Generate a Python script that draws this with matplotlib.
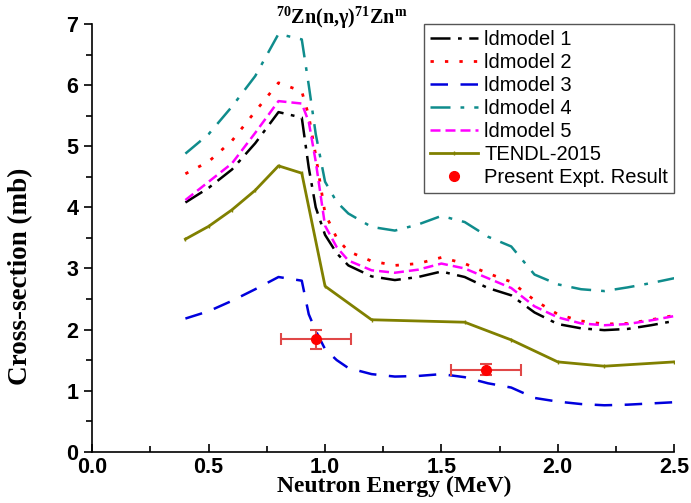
import matplotlib
matplotlib.use("Agg")
import matplotlib.pyplot as plt
from matplotlib.ticker import MultipleLocator, FormatStrFormatter

plt.rcParams['font.family'] = ['Liberation Sans', 'DejaVu Sans']
plt.rcParams['mathtext.fontset'] = 'custom'
plt.rcParams['mathtext.rm'] = 'Liberation Serif'
plt.rcParams['mathtext.bf'] = 'Liberation Serif:bold'

# ---- data ----
energy = [0.4, 0.5, 0.6, 0.7, 0.8, 0.9, 0.93, 0.96, 1.0, 1.05, 1.1, 1.2, 1.3,
          1.4, 1.5, 1.6, 1.7, 1.8, 1.9, 2.0, 2.1, 2.2, 2.3, 2.4, 2.5]
ld1 = [4.08, 4.32, 4.62, 5.05, 5.56, 5.47, 4.65, 4.00, 3.55, 3.25, 3.05, 2.87, 2.81,
       2.86, 2.95, 2.86, 2.68, 2.56, 2.28, 2.09, 2.02, 1.99, 2.01, 2.07, 2.14]
ld2 = [4.55, 4.75, 5.09, 5.57, 6.04, 5.90, 5.50, 4.85, 3.90, 3.50, 3.28, 3.12, 3.05,
       3.08, 3.18, 3.08, 2.92, 2.78, 2.48, 2.25, 2.14, 2.09, 2.10, 2.16, 2.23]
ld3 = [2.18, 2.30, 2.47, 2.66, 2.86, 2.80, 2.25, 1.98, 1.68, 1.50, 1.37, 1.27, 1.23,
       1.24, 1.27, 1.22, 1.12, 1.05, 0.88, 0.82, 0.78, 0.76, 0.77, 0.79, 0.81]
ld4 = [4.88, 5.20, 5.65, 6.15, 6.84, 6.75, 6.00, 5.20, 4.42, 4.09, 3.90, 3.68, 3.62,
       3.72, 3.86, 3.76, 3.52, 3.36, 2.90, 2.74, 2.66, 2.63, 2.69, 2.76, 2.84]
ld5 = [4.12, 4.42, 4.72, 5.22, 5.74, 5.70, 5.40, 4.75, 3.70, 3.35, 3.13, 2.97, 2.93,
       2.98, 3.08, 3.00, 2.84, 2.68, 2.38, 2.20, 2.10, 2.07, 2.09, 2.15, 2.22]

tendl_e = [0.4, 0.5, 0.6, 0.7, 0.8, 0.9, 1.0, 1.2, 1.6, 1.8, 2.0, 2.2, 2.5]
tendl = [3.48, 3.69, 3.96, 4.28, 4.68, 4.56, 2.71, 2.16, 2.12, 1.83, 1.47, 1.40, 1.47]

expt_e = [0.96, 1.69]
expt_xs = [1.84, 1.34]
expt_e_err = [0.15, 0.15]
expt_xs_err = [0.16, 0.09]

# ---- figure ----
fig = plt.figure(figsize=(6.91, 5.03), dpi=100)
ax = fig.add_axes([0.1336, 0.102, 0.842, 0.850])

ax.plot(energy, ld1, color='black', lw=1.8, ls=(0, (8, 3, 1.5, 3)), label='ldmodel 1')
ax.plot(energy, ld2, color='#ff0000', lw=2.0, ls=(0, (1.2, 4)), label='ldmodel 2')
ax.plot(energy, ld3, color='#0000dd', lw=1.8, ls=(0, (7, 5)), label='ldmodel 3')
ax.plot(energy, ld4, color='#0f8c8c', lw=1.8, ls=(0, (8, 4, 1.5, 4)), label='ldmodel 4')
ax.plot(energy, ld5, color='#ff00ff', lw=1.8, ls=(0, (4, 2)), label='ldmodel 5')
ax.plot(tendl_e, tendl, color='#808000', lw=2.0, marker='|', ms=3, mew=1,
        label='TENDL-2015')
ax.errorbar(expt_e, expt_xs, xerr=expt_e_err, yerr=expt_xs_err, fmt='none',
            ecolor='#e04848', elinewidth=1.5, capsize=4, capthick=1.5)
ax.plot(expt_e, expt_xs, 'o', color='#ff0000', ms=7, ls='none',
        label='Present Expt. Result')

ax.set_xlim(0, 2.5)
ax.set_ylim(0, 7)
ax.spines['top'].set_visible(False)
ax.spines['right'].set_visible(False)
for s in ('left', 'bottom'):
    ax.spines[s].set_linewidth(1.2)

ax.xaxis.set_major_locator(MultipleLocator(0.5))
ax.xaxis.set_minor_locator(MultipleLocator(0.25))
ax.yaxis.set_major_locator(MultipleLocator(1))
ax.yaxis.set_minor_locator(MultipleLocator(0.5))
ax.xaxis.set_major_formatter(FormatStrFormatter('%.1f'))
ax.yaxis.set_major_formatter(FormatStrFormatter('%d'))
ax.tick_params(axis='x', which='major', direction='in', length=6, width=1.2)
ax.tick_params(axis='x', which='minor', direction='in', length=4, width=1.2)
ax.tick_params(axis='y', which='major', direction='out', length=6, width=1.2)
ax.tick_params(axis='y', which='minor', direction='out', length=4, width=1.2)
ax.tick_params(axis='both', which='major', labelsize=15.5, pad=4)
for lab in ax.get_xticklabels() + ax.get_yticklabels():
    lab.set_fontweight('bold')

ax.set_xlabel('Neutron Energy (MeV)', fontfamily='Liberation Serif',
              fontweight='bold', fontsize=17)
ax.xaxis.set_label_coords(0.519, -0.057)
ax.xaxis.label.set_va('top')
ax.set_ylabel('Cross-section (mb)', fontfamily='Liberation Serif',
              fontweight='bold', fontsize=19.5)
ax.yaxis.set_label_coords(-0.101, 0.41)

fig.text(342 / 691, 1 - 24 / 503,
         r'$^{\mathbf{70}}$Zn(n,γ)$^{\mathbf{71}}$Zn$^{\mathbf{m}}$',
         ha='center', va='baseline', fontfamily='Liberation Serif',
         fontweight='bold', fontsize=14.5)

leg = ax.legend(loc='upper right', bbox_to_anchor=(1.0, 1.0), borderaxespad=0.0,
                prop={'family': 'Liberation Sans', 'size': 14.5},
                handlelength=2.4, handletextpad=0.3, labelspacing=0.2,
                borderpad=0.3, fancybox=False, framealpha=1)
leg.get_frame().set_edgecolor('#555555')
leg.get_frame().set_linewidth(1.0)

fig.savefig('out.png', dpi=100)
